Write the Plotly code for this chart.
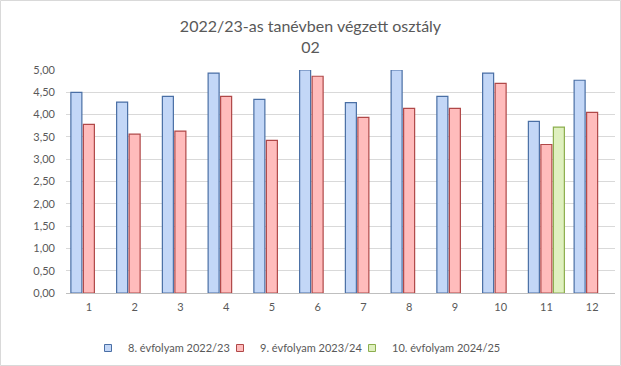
import plotly.graph_objects as go

categories = [str(i) for i in range(1, 13)]
grade8 = [4.50, 4.28, 4.41, 4.93, 4.34, 5.00, 4.27, 5.00, 4.41, 4.93, 3.85, 4.77]
grade9 = [3.78, 3.56, 3.63, 4.41, 3.42, 4.86, 3.94, 4.14, 4.14, 4.70, 3.33, 4.05]
grade10 = [None, None, None, None, None, None, None, None, None, None, 3.72, None]
names = ["8. évfolyam 2022/23", "9. évfolyam 2023/24", "10. évfolyam 2024/25"]
fills = ["#c3d7f7", "#ffbcbc", "#dff0bf"]
edges = ["#4a6fa5", "#b04848", "#8cae4e"]

W, H = 621, 366
L, R, T, B = 66, 6, 70, 73
FONT = "Lato, Open Sans, Liberation Sans, sans-serif"
legend_ids = ["legend", "legend2", "legend3"]
legend_text_x = [128, 260, 392]

fig = go.Figure()
for vals, nm, fc, ec in zip([grade8, grade9, grade10], names, fills, edges):
    fig.add_trace(go.Bar(x=categories, y=vals, name=nm, showlegend=False,
                         marker=dict(color=fc, line=dict(color=ec, width=1.2))))
for nm, fc, ec, lg in zip(names, fills, edges, legend_ids):
    fig.add_trace(go.Scatter(x=[None], y=[None], mode="markers", name=nm, legend=lg,
                             marker=dict(symbol="square", size=7, color=fc,
                                         line=dict(color=ec, width=1))))

pw, ph = W - L - R, H - T - B
fig.add_shape(type="rect", xref="paper", yref="paper",
              x0=(0.5 - L) / pw, x1=(W - 0.5 - L) / pw,
              y0=-(H - 0.5 - T - ph) / ph, y1=1 + (T - 0.5) / ph,
              line=dict(color="#d9d9d9", width=1), layer="below")

legends = {}
for lg, tx in zip(legend_ids, legend_text_x):
    legends[lg] = dict(orientation="h", x=(tx - 40) / W, xref="container", xanchor="left",
                       y=1 - 348 / H, yref="container", yanchor="middle",
                       font=dict(size=11, color="#595959"), itemwidth=30,
                       bgcolor="rgba(0,0,0,0)")

fig.update_layout(
    width=W, height=H,
    margin=dict(l=L, r=R, t=T, b=B, autoexpand=False),
    paper_bgcolor="white", plot_bgcolor="white",
    separators=", ",
    barmode="group", bargap=0.18, bargroupgap=0.12,
    title=dict(text="2022/23-as tanévben végzett osztály<br>02",
               x=0.5, xref="container", xanchor="center",
               y=1 - 32 / H, yref="container", yanchor="top",
               font=dict(family=FONT, size=16, color="#595959")),
    font=dict(family=FONT, size=10, color="#595959"),
    xaxis=dict(type="category", showgrid=False, showline=True, linecolor="#bfbfbf",
               ticks="", ticklabelstandoff=4, automargin=False,
               tickfont=dict(size=11, color="#595959")),
    yaxis=dict(range=[0, 5], dtick=0.5, tickformat=".2f", showgrid=True,
               gridcolor="#d9d9d9", zeroline=False, showline=False, ticks="",
               ticklabelstandoff=10, automargin=False,
               tickfont=dict(size=11, color="#595959")),
    **legends,
)

fig.write_html("out.html", config={"displayModeBar": False},
               post_script="document.body.style.margin='0';document.body.style.padding='0';")
